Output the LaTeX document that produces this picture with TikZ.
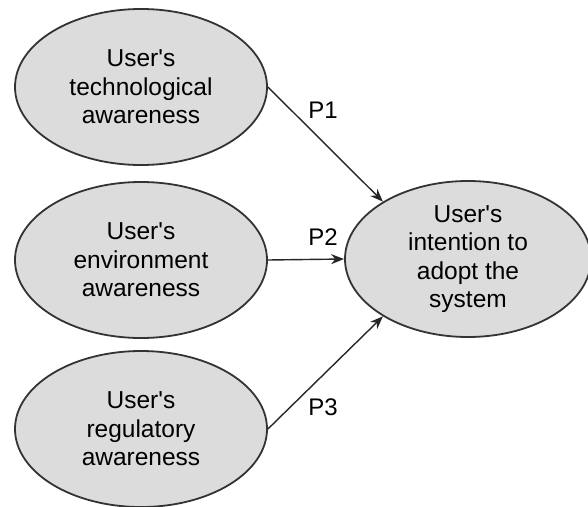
\documentclass[tikz,border=0pt]{standalone}
\usepackage{fontspec}
\setmainfont{Liberation Sans}
\usetikzlibrary{shapes.geometric,arrows.meta}
\definecolor{ellfill}{HTML}{DCDCDC}
\definecolor{ellline}{HTML}{333333}
\newcommand{\apo}{\textquotesingle}
\begin{document}
\begin{tikzpicture}[x=1pt,y=-1pt,
  oval/.style={ellipse,draw=ellline,line width=1.8pt,fill=ellfill,inner sep=0pt,
    minimum width=252pt,minimum height=156pt,align=center,
    font=\fontsize{24.5}{28.5}\selectfont},
  link/.style={draw=black!85,line width=1.4pt,-{Stealth[length=13pt,width=10pt]}},
  plabel/.style={font=\fontsize{24}{28}\selectfont}]
\useasboundingbox (0,0) rectangle (588,506);
\node[oval] (a) at (141,87) {User\apo s\\technological\\awareness};
\node[oval] (b) at (141,260) {User\apo s\\environment\\awareness};
\node[oval] (c) at (141,429) {User\apo s\\regulatory\\awareness};
\node[oval,minimum width=246pt] (t) at (468,259) {User\apo s\\intention to\\adopt the\\system};
\draw[link] (a.east) -- (t.146);
\draw[link] (b.east) -- (t.west);
\draw[link] (c.east) -- (t.214);
\node[plabel] (p1) at (323,110) {P1};
\node[plabel] (p2) at (323,237) {P2};
\node[plabel] (p3) at (323,407) {P3};
\end{tikzpicture}
\end{document}
